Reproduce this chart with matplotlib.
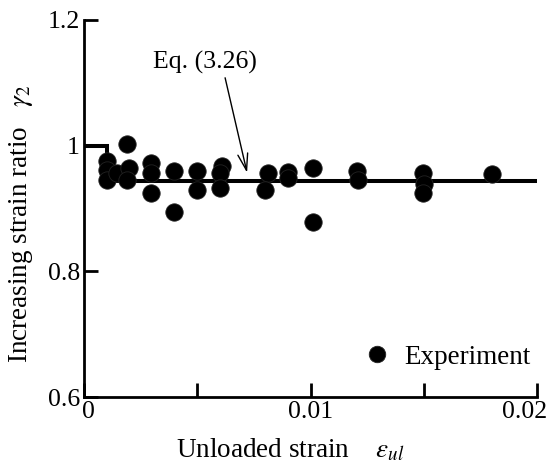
import matplotlib
matplotlib.use("Agg")
import matplotlib.pyplot as plt
from matplotlib.ticker import FixedLocator
from matplotlib.transforms import ScaledTranslation

# ================= DATA =================
# unloaded strain vs increasing strain ratio (experiment)
strain_ul = [0.00102, 0.00102, 0.00102, 0.00146, 0.0019, 0.0020, 0.0019,
             0.00296, 0.00296, 0.00296, 0.00397, 0.00397, 0.00499, 0.00499,
             0.0061, 0.0060, 0.0060, 0.00812, 0.0080, 0.0090, 0.0090,
             0.0101, 0.0101, 0.01205, 0.0121, 0.01497, 0.0150, 0.01497, 0.0180]
gamma2 = [0.976, 0.962, 0.946, 0.957, 1.002, 0.965, 0.946,
          0.973, 0.957, 0.925, 0.959, 0.895, 0.959, 0.930,
          0.967, 0.957, 0.933, 0.957, 0.930, 0.958, 0.948,
          0.965, 0.879, 0.959, 0.946, 0.957, 0.939, 0.924, 0.955]

# Eq. (3.26) step line
eq_x = [0.0, 0.001, 0.001, 0.02]
eq_y = [1.0, 1.0, 0.944, 0.944]

x_major = [0.0, 0.01, 0.02]
x_major_labels = ["0", "0.01", "0.02"]
x_minor = [0.005, 0.015]
y_major = [0.6, 0.8, 1.0, 1.2]
y_major_labels = ["0.6", "0.8", "1", "1.2"]

FS = 18.5
FS_LAB = 19.5

# ================= STYLE =================
plt.rcParams["font.family"] = ["Liberation Serif", "DejaVu Serif"]
plt.rcParams["mathtext.fontset"] = "stix"

fig = plt.figure(figsize=(5.5, 4.69), dpi=100)
ax = fig.add_axes([0.1527, 0.1535, 0.8237, 0.8039])

ax.plot(eq_x, eq_y, color="black", lw=2.9, solid_joinstyle="miter", zorder=2)
ax.plot(strain_ul, gamma2, "o", color="black", ms=12.5, mec="#222222",
        mew=0.6, ls="none", label="Experiment", zorder=3)

# equation label + arrow
ax.text(0.00534, 1.132, "Eq. (3.26)", ha="center", va="center", fontsize=FS)
ax.annotate("", xy=(0.0072, 0.957), xytext=(0.00623, 1.108),
            arrowprops=dict(arrowstyle="->, head_length=0.6, head_width=0.18",
                            color="black", lw=1.0, shrinkA=0, shrinkB=0,
                            mutation_scale=20))

ax.set_xlim(0, 0.02)
ax.set_ylim(0.6, 1.2)

for side in ("top", "right"):
    ax.spines[side].set_visible(False)
for side in ("left", "bottom"):
    ax.spines[side].set_linewidth(2.0)

ax.xaxis.set_major_locator(FixedLocator(x_major))
ax.set_xticklabels(x_major_labels)
ax.xaxis.set_minor_locator(FixedLocator(x_minor))
ax.yaxis.set_major_locator(FixedLocator(y_major))
ax.set_yticklabels(y_major_labels)

ax.tick_params(which="both", direction="in", length=10, width=2.0,
               labelsize=FS, pad=3)

# nudge end labels so "0.02" stays inside the figure
xt = ax.get_xticklabels()
xt[0].set_transform(xt[0].get_transform() + ScaledTranslation(4 / 100, 0, fig.dpi_scale_trans))
xt[-1].set_transform(xt[-1].get_transform() + ScaledTranslation(-12 / 100, 0, fig.dpi_scale_trans))

ax.set_xlabel("Unloaded strain    $\\varepsilon_{ul}$", fontsize=FS_LAB)
ax.xaxis.set_label_coords(0.455, -0.105)
ax.set_ylabel("Increasing strain ratio   $\\gamma_2$", fontsize=FS_LAB)
ax.yaxis.set_label_coords(-0.108, 0.46)

ax.legend(loc="center right", bbox_to_anchor=(0.985, 0.106), frameon=False,
          fontsize=FS_LAB, handlelength=1.0, handletextpad=0.5,
          borderpad=0, borderaxespad=0, markerscale=0.95)

fig.savefig("out.png", dpi=100)
